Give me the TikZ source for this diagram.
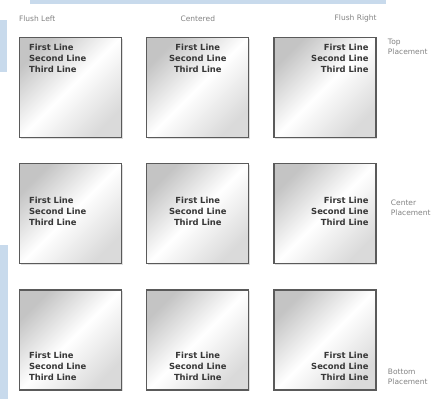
\documentclass[tikz,border=0pt]{standalone}
\usepackage{fontspec}
\setmainfont{DejaVu Sans}
\usepackage{xcolor}
\usepackage{tikz}
\usetikzlibrary{positioning,shadows}
\definecolor{panelgray}{RGB}{196,196,196}
\definecolor{panellow} {RGB}{218,218,218}
\definecolor{panelline}{RGB}{90,90,90}
\definecolor{celltxt}  {RGB}{55,55,55}
\definecolor{lbltxt}   {RGB}{130,130,130}
\definecolor{bgblue}   {RGB}{200,218,236}
\tikzset{
  panel/.style   ={draw=panelline, line width=1.3pt, inner sep=0pt,
                   minimum width=102pt, minimum height=100pt,
                   top color=panelgray, bottom color=panellow,
                   middle color=white, shading angle=45,
                   drop shadow={opacity=0.25, shadow xshift=1pt,
                                shadow yshift=-1pt}},
  celltext/.style={font=\bfseries\fontsize{8.4}{11}\selectfont,
                   text=celltxt, inner sep=0pt},
  headlbl/.style ={font=\fontsize{7.5}{9}\selectfont, text=lbltxt,
                   inner sep=0pt},
  sidelbl/.style ={font=\fontsize{7.5}{10}\selectfont, text=lbltxt,
                   inner sep=0pt, align=left},
}

\begin{document}
\begin{tikzpicture}[x=1pt,y=-1pt]
  \useasboundingbox (0,0) rectangle (441,399);
  % background bands
  \fill[bgblue] (30,0) rectangle (386,4);
  \fill[bgblue] (0,20) rectangle (7,72);
  \fill[bgblue] (0,245) rectangle (8,399);

  % panels
  \node[panel] (tl) at (70.5,87.5) {};
  \node[panel, right=24pt of tl] (tc) {};
  \node[panel, right=24pt of tc] (tr) {};
  \node[panel, below=25pt of tl] (cl) {};
  \node[panel, right=24pt of cl] (cc) {};
  \node[panel, right=24pt of cc] (cr) {};
  \node[panel, below=25pt of cl] (bl) {};
  \node[panel, right=24pt of bl] (bc) {};
  \node[panel, right=24pt of bc] (br) {};

  % top row text
  \node[celltext, align=left,   anchor=north west, xshift=10pt, yshift=-7pt]
    (tl-txt) at (tl.north west) {First Line\\Second Line\\Third Line};
  \node[celltext, align=center, anchor=north, yshift=-7pt]
    (tc-txt) at (tc.north) {First Line\\Second Line\\Third Line};
  \node[celltext, align=right,  anchor=north east, xshift=-8pt, yshift=-7pt]
    (tr-txt) at (tr.north east) {First Line\\Second Line\\Third Line};
  % center row text
  \node[celltext, align=left,   anchor=west, xshift=10pt, yshift=2pt]
    (cl-txt) at (cl.west) {First Line\\Second Line\\Third Line};
  \node[celltext, align=center, yshift=2pt]
    (cc-txt) at (cc.center) {First Line\\Second Line\\Third Line};
  \node[celltext, align=right,  anchor=east, xshift=-8pt, yshift=2pt]
    (cr-txt) at (cr.east) {First Line\\Second Line\\Third Line};
  % bottom row text
  \node[celltext, align=left,   anchor=south west, xshift=10pt, yshift=10pt]
    (bl-txt) at (bl.south west) {First Line\\Second Line\\Third Line};
  \node[celltext, align=center, anchor=south, yshift=10pt]
    (bc-txt) at (bc.south) {First Line\\Second Line\\Third Line};
  \node[celltext, align=right,  anchor=south east, xshift=-8pt, yshift=10pt]
    (br-txt) at (br.south east) {First Line\\Second Line\\Third Line};

  % column headers
  \node[headlbl, anchor=south west, yshift=15pt] (flushl) at (tl.north west) {Flush Left};
  \node[headlbl, anchor=south,      yshift=15pt] (centrd) at (tc.north) {Centered};
  \node[headlbl, anchor=south east, yshift=15pt] (flushr) at (tr.north east) {Flush Right};

  % row labels
  \node[sidelbl, anchor=north west, xshift=11pt, yshift=-2pt] (toppl) at (tr.north east) {Top\\Placement};
  \node[sidelbl, anchor=west,       xshift=14pt, yshift=6pt]  (cenpl) at (cr.east) {Center\\Placement};
  \node[sidelbl, anchor=south west, xshift=11pt, yshift=6pt]  (botpl) at (br.south east) {Bottom\\Placement};
\end{tikzpicture}
\end{document}
